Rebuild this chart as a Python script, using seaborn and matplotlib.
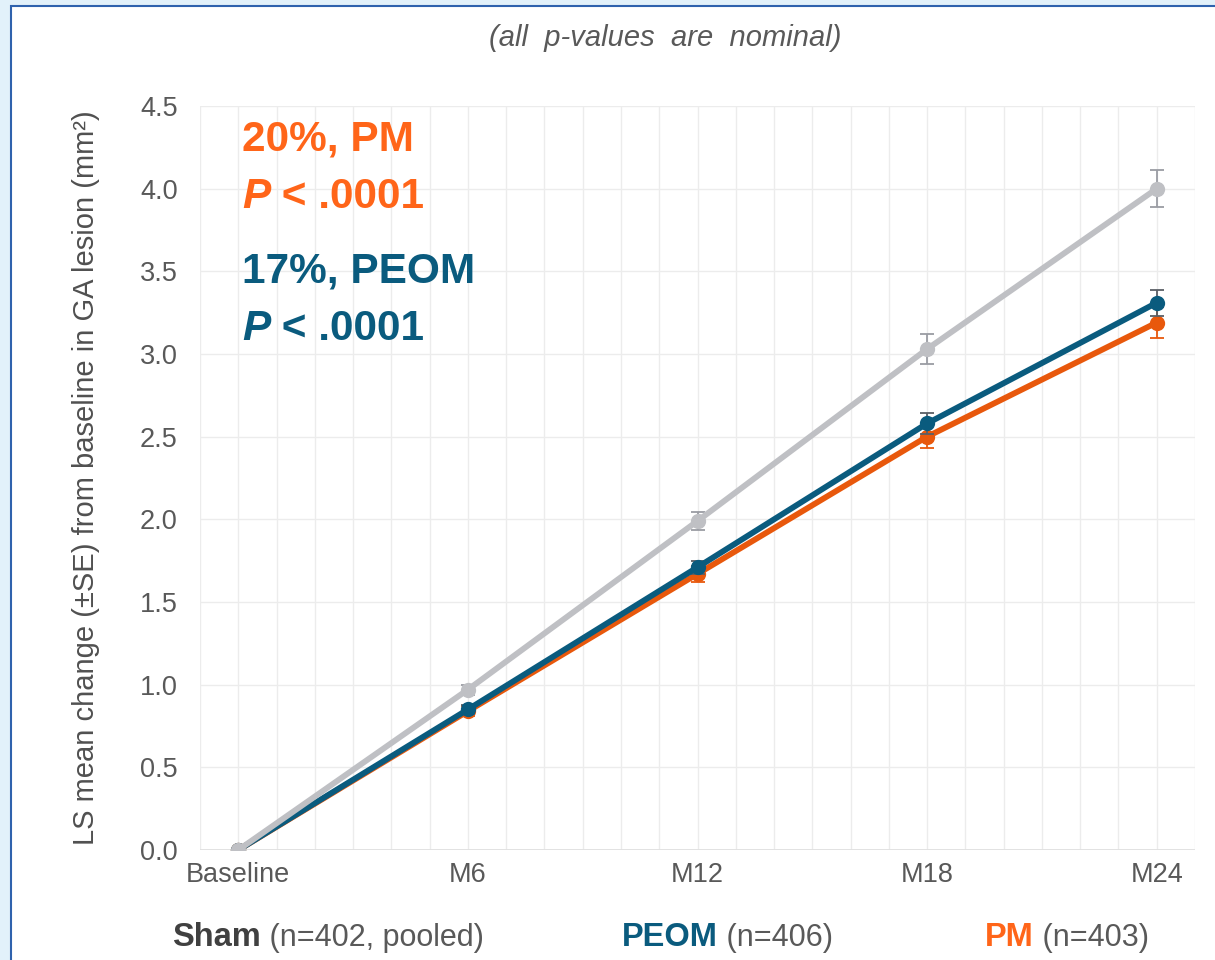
import matplotlib
matplotlib.use("Agg")
import matplotlib.pyplot as plt
from matplotlib.patches import Rectangle
import pandas as pd
import seaborn as sns

# Значения
months = [0, 6, 12, 18, 24]
tick_labels = ["Baseline", "M6", "M12", "M18", "M24"]
sham = [0.0, 0.97, 1.99, 3.03, 4.00]
sham_se = [0.0, 0.03, 0.055, 0.09, 0.11]
peom = [0.0, 0.85, 1.71, 2.58, 3.31]
peom_se = [0.0, 0.03, 0.04, 0.065, 0.08]
pm = [0.0, 0.84, 1.67, 2.50, 3.19]
pm_se = [0.0, 0.03, 0.05, 0.07, 0.095]

groups = ["PM", "PEOM", "Sham"]
colors = {"Sham": "#bfc0c4", "PEOM": "#0a5b7e", "PM": "#e8580c"}
err_colors = {"Sham": "#9a9ca3", "PEOM": "#5a5f66", "PM": "#e8580c"}

data = pd.DataFrame({
    "month": months * 3,
    "value": pm + peom + sham,
    "se": pm_se + peom_se + sham_se,
    "group": ["PM"] * 5 + ["PEOM"] * 5 + ["Sham"] * 5,
})

sns.set_theme(style="white")
plt.rcParams["font.family"] = ["Liberation Sans", "DejaVu Sans"]

fig = plt.figure(figsize=(12.15, 9.6), dpi=100)
fig.patch.set_facecolor("#e2f1fa")
fig.patches.append(Rectangle((11 / 1215, -0.1), 1.1, (960 - 6) / 960 + 0.1,
                             transform=fig.transFigure, facecolor="white",
                             edgecolor="#2f62ad", linewidth=1.5, zorder=-5))

ax = fig.add_axes([200 / 1215, 1 - 850 / 960, 995 / 1215, 744 / 960])
ax.set_zorder(2)
ax.set_facecolor("white")

for i, g in enumerate(groups):
    sub = data[data["group"] == g]
    ax.errorbar(sub["month"], sub["value"], yerr=sub["se"], fmt="none",
                ecolor=err_colors[g], elinewidth=1.3, capsize=5, capthick=1.3,
                zorder=2 + 2 * i)
    sns.lineplot(data=sub, x="month", y="value", color=colors[g], linewidth=4.2,
                 marker="o", markersize=11, markeredgewidth=0, ax=ax,
                 zorder=3 + 2 * i, legend=False)

ax.set_xlim(-1, 25)
ax.set_ylim(0, 4.5)
ax.set_xticks(months)
ax.set_xticklabels(tick_labels)
ax.set_xticks(range(-1, 26), minor=True)
ax.set_yticks([i * 0.5 for i in range(10)])
ax.set_yticklabels([f"{i * 0.5:.1f}" for i in range(10)])
ax.grid(True, which="both", color="#ececec", linewidth=1.0)
ax.set_axisbelow(True)
for s in ax.spines.values():
    s.set_visible(False)
ax.axhline(0, color="#e0e0e0", linewidth=1.3, zorder=1)
ax.tick_params(axis="both", which="both", length=0, labelsize=19.5,
               labelcolor="#595959")
ax.tick_params(axis="y", pad=16)
ax.tick_params(axis="x", pad=9)
ax.set_xlabel("")
ax.set_ylabel("LS mean change (\u00b1SE) from baseline in GA lesion (mm\u00b2)",
              fontsize=21, color="#505050")
ax.yaxis.set_label_coords(-0.1005, 0.5)

fig.text(665 / 1215, 1 - 38 / 960, "(all  p-values  are  nominal)", style="italic",
         fontsize=21, color="#595959", ha="center", va="center")

# Аннотации
for y, txt, c in [(0.955, "20%, PM", "#ff6519"), (0.778, "17%, PEOM", "#0a5b7e")]:
    ax.text(0.042, y, txt, transform=ax.transAxes, fontsize=30.5,
            fontweight="bold", color=c, va="center")
for y, c in [(0.878, "#ff6519"), (0.700, "#0a5b7e")]:
    p = ax.text(0.042, y, "P", transform=ax.transAxes, fontsize=30.5, style="italic",
                fontweight="bold", color=c, va="center")
    ax.annotate(" < .0001", xy=(1, 0.5), xycoords=p, fontsize=30.5,
                fontweight="bold", color=c, va="center", ha="left")

# Подписи групп внизу
y_leg = 1 - 938 / 960
pieces = [
    (172, "Sham", "#404040", "(n=402, pooled)"),
    (622, "PEOM", "#0a5b7e", "(n=406)"),
    (985, "PM", "#ff6519", "(n=403)"),
]
for x, name, c, rest in pieces:
    t = fig.text(x / 1215, y_leg, name, fontsize=23.5, fontweight="bold", color=c,
                 ha="left", va="center")
    ax.annotate(" " + rest, xy=(1, 0.5), xycoords=t, fontsize=22, color="#595959",
                va="center", ha="left", annotation_clip=False)

plt.savefig("out.png", dpi=100, facecolor=fig.get_facecolor())
